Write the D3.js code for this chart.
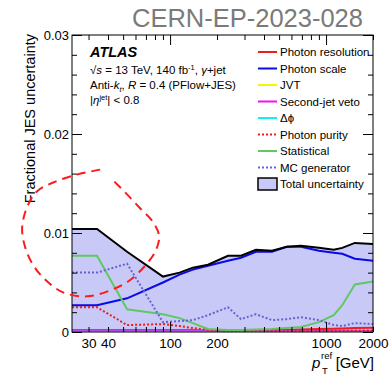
<!DOCTYPE html>
<html>
<head>
<meta charset="utf-8">
<script src="https://cdn.jsdelivr.net/npm/d3@7"></script>
<style>
  html, body { margin: 0; padding: 0; background: #fff; }
  svg { display: block; }
  text { font-family: "Liberation Sans", Arial, sans-serif; }
</style>
</head>
<body>
<svg id="chart" width="391" height="377"></svg>
<script>
// Reference photon pT nodes [GeV] at which each uncertainty component is evaluated
const ptNodes = [23.5, 34, 53, 90, 115, 140, 175, 235, 285, 355, 450, 560, 690, 900, 1120, 1270, 1530, 2000];

// Fractional JES uncertainty components
const totalUncertainty = [0.0104, 0.0104, 0.0081, 0.0056, 0.0060, 0.0065, 0.0068, 0.0077, 0.0077, 0.0083, 0.0082, 0.0086, 0.0087, 0.0085, 0.0083, 0.0085, 0.0090, 0.0089];
const photonResolution = [0.0001, 0.0001, 0.0001, 0.0001, 0.0001, 0.0001, 0.0001, 0.0001, 0.00012, 0.00015, 0.0002, 0.0002, 0.00025, 0.0003, 0.00032, 0.00035, 0.0004, 0.00042];
const photonScale = [0.0027, 0.0027, 0.0034, 0.0050, 0.0058, 0.0063, 0.0067, 0.0072, 0.0075, 0.0081, 0.0081, 0.0086, 0.0086, 0.0082, 0.0080, 0.0079, 0.0074, 0.0072];
const jvt = [0.00005, 0.00005, 0.00005, 0.00005, 0.00005, 0.00005, 0.00005, 0.00005, 0.00005, 0.00005, 0.00005, 0.00005, 0.00005, 0.00005, 0.00005, 0.00005, 0.00005, 0.00005];
const secondJetVeto = [0.0002, 0.0002, 0.0002, 0.0002, 0.0002, 0.0002, 0.00015, 0.0001, 0.0001, 0.0001, 0.0001, 0.0001, 0.0001, 0.0001, 0.0001, 0.0001, 0.0001, 0.0001];
const deltaPhi = [0.00003, 0.00003, 0.00003, 0.00003, 0.00003, 0.00003, 0.00003, 0.00003, 0.00003, 0.00003, 0.00003, 0.00003, 0.00003, 0.00003, 0.00003, 0.00003, 0.00003, 0.00003];
const photonPurity = [0.0025, 0.0025, 0.0007, 0.0008, 0.0006, 0.0004, 0.0002, 0.00015, 0.00015, 0.00015, 0.00015, 0.00015, 0.00015, 0.00015, 0.00015, 0.00015, 0.00015, 0.00015];
const statistical = [0.0077, 0.0077, 0.0023, 0.0018, 0.0014, 0.0009, 0.0003, 0.0002, 0.0002, 0.00025, 0.0003, 0.0004, 0.0005, 0.0010, 0.0017, 0.0027, 0.0048, 0.0051];
const mcGenerator = [0.0060, 0.0060, 0.0069, 0.0010, 0.0011, 0.0012, 0.0017, 0.0025, 0.0013, 0.0018, 0.0012, 0.0013, 0.0015, 0.0012, 0.0007, 0.0006, 0.0009, 0.0008];

// Axis ticks
const xMajorTicks = [100, 1000];
const xMinorTicks = [30, 40, 50, 60, 70, 80, 90, 200, 300, 400, 500, 600, 700, 800, 900, 2000];
const xTickLabels = [30, 40, 100, 200, 1000, 2000];
const yMajorTicks = [0, 0.01, 0.02, 0.03];
const yMinorTicks = [0.002, 0.004, 0.006, 0.008, 0.012, 0.014, 0.016, 0.018, 0.022, 0.024, 0.026, 0.028];

// Hand-drawn highlight loop around the low-pT region (pT [GeV], uncertainty)
const loopPt = [35.6, 25.3, 17.8, 14.0, 12.1, 11.25, 11.8, 13.2, 15.8, 20.6, 29.4, 41.2, 53.8, 69.2, 81.3, 85.0, 77.8, 64.2, 51.5, 41.9];
const loopVal = [0.0164, 0.0159, 0.0151, 0.0142, 0.0126, 0.0105, 0.0085, 0.0068, 0.0053, 0.0040, 0.0036, 0.0042, 0.0051, 0.0067, 0.0083, 0.0097, 0.0111, 0.0125, 0.0141, 0.0155];

const series = [
  { name: "Photon resolution", values: photonResolution, color: "#ee1c1c", dash: null },
  { name: "Photon scale", values: photonScale, color: "#0a0ae6", dash: null },
  { name: "JVT", values: jvt, color: "#f5f500", dash: null },
  { name: "Second-jet veto", values: secondJetVeto, color: "#f010f0", dash: null },
  { name: "\u0394\u03d5", values: deltaPhi, color: "#10f0f0", dash: null },
  { name: "Photon purity", values: photonPurity, color: "#ee1c1c", dash: "2,2" },
  { name: "Statistical", values: statistical, color: "#60c860", dash: null },
  { name: "MC generator", values: mcGenerator, color: "#6464d2", dash: "2,2" }
];

const fillColor = "#c9c9f8";

const svg = d3.select("#chart");
const L = 72, R = 373, T = 35, B = 332;

const x = d3.scaleLog().domain([23.5, 2000]).range([L, R]);
const y = d3.scaleLinear().domain([0, 0.03]).range([B, T]);

svg.append("defs").append("clipPath").attr("id", "plotclip")
  .append("rect").attr("x", L).attr("y", T).attr("width", R - L).attr("height", B - T);

const plot = svg.append("g").attr("clip-path", "url(#plotclip)");

// Total uncertainty band
const idx = d3.range(ptNodes.length);
plot.append("path")
  .attr("d", d3.area().x(i => x(ptNodes[i])).y0(y(0)).y1(i => y(totalUncertainty[i]))(idx))
  .attr("fill", fillColor);

// Component curves
series.forEach(s => {
  plot.append("path")
    .attr("d", d3.line().x(i => x(ptNodes[i])).y(i => y(s.values[i]))(idx))
    .attr("fill", "none")
    .attr("stroke", s.color)
    .attr("stroke-width", 2)
    .attr("stroke-dasharray", s.dash);
});

// Total uncertainty outline
plot.append("path")
  .attr("d", d3.line().x(i => x(ptNodes[i])).y(i => y(totalUncertainty[i]))(idx))
  .attr("fill", "none")
  .attr("stroke", "#000")
  .attr("stroke-width", 2);

// Axes with inward ticks
function tickAxis(axis, g) {
  g.call(axis);
  g.select(".domain").remove();
  g.selectAll("line").attr("stroke", "#000").attr("stroke-width", 1);
}
const noLabel = () => "";
tickAxis(d3.axisBottom(x).tickValues(xMinorTicks).tickSize(-5).tickFormat(noLabel),
  svg.append("g").attr("transform", `translate(0,${B})`));
tickAxis(d3.axisBottom(x).tickValues(xMajorTicks).tickSize(-10).tickFormat(noLabel),
  svg.append("g").attr("transform", `translate(0,${B})`));
tickAxis(d3.axisTop(x).tickValues(xMinorTicks).tickSize(-5).tickFormat(noLabel),
  svg.append("g").attr("transform", `translate(0,${T})`));
tickAxis(d3.axisTop(x).tickValues(xMajorTicks).tickSize(-10).tickFormat(noLabel),
  svg.append("g").attr("transform", `translate(0,${T})`));
tickAxis(d3.axisLeft(y).tickValues(yMinorTicks).tickSize(-5).tickFormat(noLabel),
  svg.append("g").attr("transform", `translate(${L},0)`));
tickAxis(d3.axisLeft(y).tickValues(yMajorTicks).tickSize(-10).tickFormat(noLabel),
  svg.append("g").attr("transform", `translate(${L},0)`));
tickAxis(d3.axisRight(y).tickValues(yMinorTicks).tickSize(-5).tickFormat(noLabel),
  svg.append("g").attr("transform", `translate(${R},0)`));
tickAxis(d3.axisRight(y).tickValues(yMajorTicks).tickSize(-10).tickFormat(noLabel),
  svg.append("g").attr("transform", `translate(${R},0)`));

// Tick labels
const xLab = svg.append("g").attr("transform", `translate(0,${B})`)
  .call(d3.axisBottom(x).tickValues(xTickLabels).tickSize(0).tickPadding(6.5).tickFormat(d3.format("d")));
xLab.select(".domain").remove();
xLab.selectAll("text").attr("font-size", 13.5).attr("fill", "#000")
  .attr("font-family", "Liberation Sans, Arial, sans-serif");

const yLab = svg.append("g").attr("transform", `translate(${L},0)`)
  .call(d3.axisLeft(y).tickValues(yMajorTicks).tickSize(0).tickPadding(3)
    .tickFormat(v => v === 0 ? "0" : v.toFixed(2)));
yLab.select(".domain").remove();
yLab.selectAll("text").attr("font-size", 13).attr("fill", "#000")
  .attr("font-family", "Liberation Sans, Arial, sans-serif");

// Frame
svg.append("rect").attr("x", L).attr("y", T).attr("width", R - L).attr("height", B - T)
  .attr("fill", "none").attr("stroke", "#000").attr("stroke-width", 1);

// Axis titles
svg.append("text")
  .attr("transform", `translate(35,${T - 1}) rotate(-90)`)
  .attr("text-anchor", "end")
  .attr("font-size", 14.5)
  .text("Fractional JES uncertainty");

// x title: p with stacked "ref" superscript and "T" subscript, then units
const xtY = 368;
svg.append("text").attr("x", 312).attr("y", xtY).attr("font-size", 15)
  .attr("font-style", "italic").text("p");
svg.append("text").attr("x", 321).attr("y", xtY - 9).attr("font-size", 9.5).text("ref");
svg.append("text").attr("x", 322).attr("y", xtY + 6).attr("font-size", 9.5).text("T");
svg.append("text").attr("x", R + 1).attr("y", xtY).attr("text-anchor", "end")
  .attr("font-size", 15).text("[GeV]");

// Document number
svg.append("text").attr("x", 363).attr("y", 27).attr("text-anchor", "end")
  .attr("font-family", "Open Sans, sans-serif").attr("font-size", 25.5).attr("fill", "#7a7a7a")
  .text("CERN-EP-2023-028");

// Experiment label block
const lx = 90;
svg.append("text").attr("x", lx).attr("y", 57).attr("font-size", 14.5)
  .attr("font-weight", "bold").attr("font-style", "italic").text("ATLAS");

const t1 = svg.append("text").attr("x", lx).attr("y", 74).attr("font-size", 11.5);
t1.append("tspan").text("\u221a");
t1.append("tspan").attr("font-style", "italic").text("s");
t1.append("tspan").text(" = 13 TeV, 140 fb");
t1.append("tspan").attr("font-size", 7.5).attr("dy", -4.5).text("-1");
t1.append("tspan").attr("dy", 4.5).text(", ");
t1.append("tspan").attr("font-style", "italic").text("\u03b3");
t1.append("tspan").text("+jet");

const t2 = svg.append("text").attr("x", lx).attr("y", 89).attr("font-size", 11.5);
t2.append("tspan").text("Anti-");
t2.append("tspan").attr("font-style", "italic").text("k");
t2.append("tspan").attr("font-style", "italic").attr("font-size", 7.5).attr("dy", 3).text("t");
t2.append("tspan").attr("dy", -3).text(", ");
t2.append("tspan").attr("font-style", "italic").text("R");
t2.append("tspan").text(" = 0.4 (PFlow+JES)");

const t3 = svg.append("text").attr("x", lx).attr("y", 104).attr("font-size", 11.5);
t3.append("tspan").text("|");
t3.append("tspan").attr("font-style", "italic").text("\u03b7");
t3.append("tspan").attr("font-size", 7.5).attr("dy", -4.5).text("jet");
t3.append("tspan").attr("dy", 4.5).text("| < 0.8");

// Legend
const legX0 = 258, legX1 = 277, legTextX = 280, legY0 = 52, legDy = 16.5;
series.forEach((s, i) => {
  const yy = legY0 + i * legDy;
  svg.append("line").attr("x1", legX0).attr("x2", legX1).attr("y1", yy).attr("y2", yy)
    .attr("stroke", s.color).attr("stroke-width", 2).attr("stroke-dasharray", s.dash);
  svg.append("text").attr("x", legTextX).attr("y", yy + 4).attr("font-size", 11.5).text(s.name);
});
const yTot = legY0 + series.length * legDy;
svg.append("rect").attr("x", legX0).attr("y", yTot - 6).attr("width", legX1 - legX0).attr("height", 12)
  .attr("fill", fillColor).attr("stroke", "#000").attr("stroke-width", 1.5);
svg.append("text").attr("x", legTextX).attr("y", yTot + 4).attr("font-size", 11.5).text("Total uncertainty");

// Highlight loop
svg.append("path")
  .attr("d", d3.line().curve(d3.curveCatmullRom)
    .x((d, i) => x(loopPt[i])).y((d, i) => y(loopVal[i]))(loopPt))
  .attr("fill", "none")
  .attr("stroke", "#ff1a1a")
  .attr("stroke-width", 2)
  .attr("stroke-dasharray", "9,6");
</script>
</body>
</html>
